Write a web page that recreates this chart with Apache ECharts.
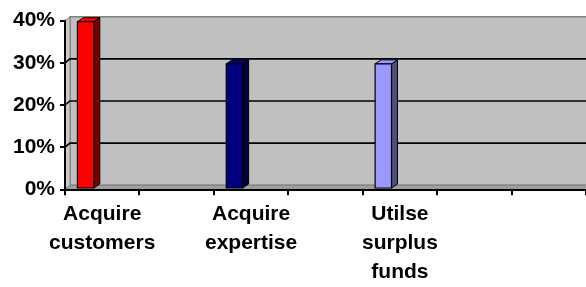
<!DOCTYPE html>
<html>
<head>
<meta charset="utf-8">
<script src="https://cdn.jsdelivr.net/npm/echarts@6/dist/echarts.min.js"></script>
<style>
html,body{margin:0;padding:0;background:#fff;}
#chart{width:586px;height:287px;}
</style>
</head>
<body>
<div id="chart"></div>
<script>
// ---- data ----
const categories = ['Acquire\ncustomers', '', 'Acquire\nexpertise', '', 'Utilse\nsurplus\nfunds', '', ''];
const values = [0.40, null, 0.30, null, 0.30, null, null];
const yTicks = [0, 0.1, 0.2, 0.3, 0.4];

// ---- styles ----
const faceColors = ['#ff0000', '#000080', '#9999ff'];
const sideColors = ['#800000', '#00003c', '#4d4d80'];
const topColors = ['#ff0000', '#000080', '#9999ff'];
const DX = 5, DY = -4;      // wall depth
const BDX = 6, BDY = -4;    // bar depth

const chart = echarts.init(document.getElementById('chart'), null, {renderer: 'canvas'});
const font = 'Liberation Sans, Arial, sans-serif';
const barData = values.map((v, i) => [i, v]).filter(d => d[1] != null);
const axisNames = categories.map((c, i) => c === '' ? '\u200b'.repeat(i + 1) : c);
const tickData = categories.map((c, i) => [i, 0]).concat([[categories.length - 1, 1]]);

chart.setOption({
  animation: false,
  grid: {left: 65, top: 20.7, bottom: 97.7, right: -4, containLabel: false},
  xAxis: {
    type: 'category',
    data: axisNames,
    boundaryGap: true,
    z: 10,
    axisLine: {show: true, lineStyle: {color: '#000', width: 2}},
    axisTick: {show: false},
    axisLabel: {interval: 0, color: '#000', fontFamily: font, fontWeight: 'bold', fontSize: 21, lineHeight: 29, margin: 10,
      formatter: (v, i) => categories[i]},
    splitLine: {show: false}
  },
  yAxis: {
    type: 'value',
    min: yTicks[0],
    max: yTicks[yTicks.length - 1],
    interval: 0.1,
    z: 10,
    axisLine: {show: true, lineStyle: {color: '#000', width: 2}},
    axisTick: {show: true, length: 5, lineStyle: {color: '#000', width: 2}},
    axisLabel: {color: '#000', fontFamily: font, fontWeight: 'bold', fontSize: 21, margin: 10,
      formatter: v => Math.round(v * 100) + '%'},
    splitLine: {show: false}
  },
  series: [
    {
      type: 'custom',
      z: 1,
      silent: true,
      clip: false,
      data: [[0, 0]],
      renderItem: function (params, api) {
        const cs = params.coordSys;
        const left = cs.x, top = cs.y, right = cs.x + cs.width, bottom = cs.y + cs.height;
        const children = [];
        children.push({type: 'rect', shape: {x: left + DX, y: top + DY, width: cs.width, height: cs.height},
          style: {fill: '#c0c0c0', stroke: '#808080', lineWidth: 1.5}});
        children.push({type: 'polygon', shape: {points: [[left, bottom], [left, top], [left + DX, top + DY], [left + DX, bottom + DY]]},
          style: {fill: '#c8c8c8', stroke: '#808080', lineWidth: 1}});
        children.push({type: 'polygon', shape: {points: [[left, bottom], [right, bottom], [right + DX, bottom + DY], [left + DX, bottom + DY]]},
          style: {fill: '#a0a0a0', stroke: '#808080', lineWidth: 1}});
        yTicks.slice(1, -1).forEach(t => {
          const y = api.coord([0, t])[1];
          children.push({type: 'polyline', shape: {points: [[left, y], [left + DX, y + DY], [right + DX, y + DY]]},
            style: {fill: null, stroke: '#000', lineWidth: 1.6}});
        });
        return {type: 'group', children: children};
      }
    },
    {
      // category boundary ticks (left edge of each category, plus right edge of last)
      type: 'custom',
      z: 20,
      silent: true,
      clip: false,
      data: tickData,
      renderItem: function (params, api) {
        const bw = api.size([1, 0])[0];
        const c = api.coord([api.value(0), 0]);
        const x = Math.round(c[0] + (api.value(1) ? bw / 2 : -bw / 2));
        return {type: 'line', shape: {x1: x, y1: c[1], x2: x, y2: c[1] + 6},
          style: {stroke: '#000', lineWidth: 2}};
      }
    },
    {
      type: 'custom',
      z: 5,
      clip: false,
      data: barData,
      renderItem: function (params, api) {
        const i = api.value(0), v = api.value(1);
        const c = api.coord([i, v]);
        const c0 = api.coord([i, 0]);
        const bw = api.size([1, 0])[0];
        const xl = c[0] - bw / 3;
        const xr = xl + bw * 0.22;
        const yt = c[1] + 1;
        const yb = c0[1] - 1.3;
        const k = params.dataIndex;
        return {type: 'group', children: [
          {type: 'polygon', shape: {points: [[xr, yt], [xr, yb], [xr + BDX, yb + BDY], [xr + BDX, yt + BDY]]},
            style: {fill: sideColors[k], stroke: '#000', lineWidth: 1}},
          {type: 'polygon', shape: {points: [[xl, yt], [xr, yt], [xr + BDX, yt + BDY], [xl + BDX, yt + BDY]]},
            style: {fill: topColors[k], stroke: '#000', lineWidth: 1}},
          {type: 'rect', shape: {x: xl, y: yt, width: xr - xl, height: yb - yt},
            style: {fill: faceColors[k], stroke: '#000', lineWidth: 1.2}}
        ]};
      }
    }
  ]
});
</script>
</body>
</html>
